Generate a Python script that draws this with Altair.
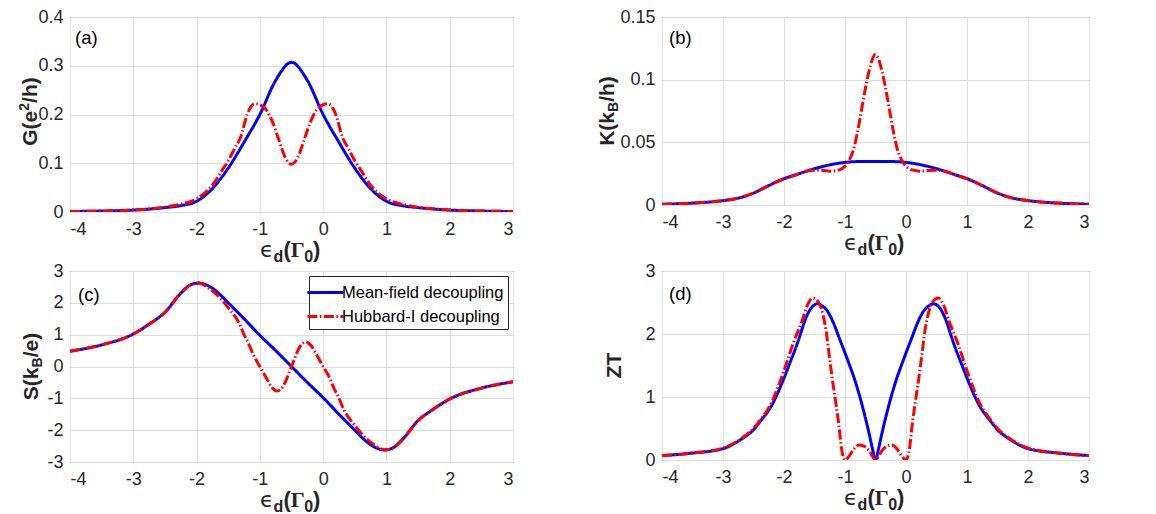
import altair as alt
import pandas as pd

MF = "Mean-field decoupling"
HI = "Hubbard-I decoupling"
SERIES = [MF, HI]
COLORS = ["#0000FF", "#FF0000"]
DASHES = [[1, 0], [10, 2.5, 1.5, 2.5]]
INK = "#262626"
SANS = "Liberation Sans"

X_TICKS = [-4, -3, -2, -1, 0, 1, 2, 3]
G_TICKS = [0, 0.1, 0.2, 0.3, 0.4]
K_TICKS = [0, 0.05, 0.1, 0.15]
S_TICKS = [-3, -2, -1, 0, 1, 2, 3]
ZT_TICKS = [0, 1, 2, 3]

# ---- (a) conductance G ----
G_MF_X = [-4, -3.5, -3, -2.5, -2.25, -2, -1.75, -1.5, -1.25, -1, -0.75, -0.5, -0.25, 0, 0.25, 0.5, 0.75, 1, 1.25, 1.5, 2, 2.5, 3]
G_MF_Y = [0.001, 0.002, 0.004, 0.009, 0.013, 0.022, 0.048, 0.09, 0.143, 0.2, 0.27, 0.307, 0.27, 0.2, 0.143, 0.09, 0.048, 0.022, 0.013, 0.009, 0.004, 0.002, 0.001]
G_HI_X = [-4, -3.5, -3, -2.5, -2.25, -2, -1.75, -1.6, -1.5, -1.4, -1.3, -1.2, -1.08, -1, -0.9, -0.8, -0.7, -0.6, -0.5,
          -0.4, -0.3, -0.2, -0.1, 0, 0.08, 0.2, 0.3, 0.4, 0.5, 0.6, 0.75, 1, 1.25, 1.5, 2, 2.5, 3]
G_HI_Y = [0.001, 0.002, 0.004, 0.01, 0.016, 0.027, 0.055, 0.085, 0.105, 0.13, 0.155, 0.2, 0.222, 0.22, 0.21, 0.185, 0.148, 0.112, 0.098,
          0.112, 0.148, 0.185, 0.21, 0.22, 0.222, 0.2, 0.155, 0.13, 0.105, 0.085, 0.055, 0.027, 0.016, 0.01, 0.004, 0.002, 0.001]

# ---- (b) thermal conductance K ----
K_MF_X = [-4, -3.5, -3, -2.75, -2.5, -2.25, -2, -1.75, -1.5, -1.25, -1, -0.75, -0.5, -0.25, 0, 0.25, 0.5, 0.75, 1, 1.25, 1.5, 1.75, 2, 2.5, 3]
K_MF_Y = [0.0006, 0.0015, 0.0035, 0.0055, 0.0095, 0.0155, 0.021, 0.025, 0.029, 0.032, 0.034, 0.0347, 0.0348, 0.0347, 0.034, 0.032, 0.029, 0.025, 0.021, 0.0155, 0.0095, 0.0055, 0.0035, 0.0015, 0.0006]
K_HI_X = [-4, -3.5, -3, -2.75, -2.5, -2.25, -2, -1.8, -1.7, -1.5, -1.35, -1.25, -1.15, -1.05, -1, -0.95, -0.9, -0.85, -0.8, -0.75, -0.7, -0.65, -0.6, -0.55, -0.5,
          -0.45, -0.4, -0.35, -0.3, -0.25, -0.2, -0.15, -0.1, -0.05, 0, 0.05, 0.15, 0.25, 0.35, 0.5, 0.7, 0.8, 1, 1.25, 1.5, 1.75, 2, 2.5, 3]
K_HI_Y = [0.0006, 0.0015, 0.0035, 0.0055, 0.0095, 0.0155, 0.021, 0.024, 0.0262, 0.0278, 0.0275, 0.027, 0.0275, 0.029, 0.031, 0.034, 0.039, 0.046, 0.057, 0.07, 0.084, 0.097, 0.108, 0.1165, 0.12,
          0.1165, 0.108, 0.097, 0.084, 0.07, 0.057, 0.046, 0.039, 0.034, 0.031, 0.029, 0.0275, 0.027, 0.0275, 0.0278, 0.0262, 0.024, 0.021, 0.0155, 0.0095, 0.0055, 0.0035, 0.0015, 0.0006]

# ---- (c) thermopower S ----
S_MF_X = [-4, -3.5, -3, -2.75, -2.5, -2.25, -2.1, -1.97, -1.8, -1.65, -1.5, -1.25, -1, -0.75, -0.5, -0.25, 0, 0.25, 0.5, 0.65, 0.8, 0.97, 1.1, 1.25, 1.5, 1.75, 2, 2.5, 3]
S_MF_Y = [0.48, 0.68, 1.02, 1.33, 1.7, 2.3, 2.56, 2.62, 2.52, 2.3, 2.0, 1.5, 0.98, 0.5, 0, -0.5, -0.98, -1.5, -2.0, -2.3, -2.52, -2.62, -2.56, -2.3, -1.7, -1.33, -1.02, -0.68, -0.48]
S_HI_X = [-4, -3.5, -3, -2.75, -2.5, -2.25, -2.1, -1.97, -1.8, -1.65, -1.5, -1.33, -1.25, -1.17, -1.1, -1, -0.9, -0.8, -0.73, -0.67, -0.6, -0.55, -0.5,
          -0.45, -0.4, -0.33, -0.27, -0.2, -0.1, 0, 0.1, 0.17, 0.25, 0.33, 0.5, 0.65, 0.8, 0.97, 1.1, 1.25, 1.5, 1.75, 2, 2.5, 3]
S_HI_Y = [0.48, 0.68, 1.02, 1.33, 1.7, 2.3, 2.56, 2.62, 2.45, 2.2, 1.85, 1.37, 1.0, 0.68, 0.35, 0, -0.35, -0.68, -0.77, -0.72, -0.5, -0.25, 0,
          0.25, 0.5, 0.72, 0.77, 0.68, 0.35, 0, -0.35, -0.68, -1.0, -1.37, -1.85, -2.2, -2.45, -2.62, -2.56, -2.3, -1.7, -1.33, -1.02, -0.68, -0.48]

# ---- (d) figure of merit ZT ----
ZT_MF_X = [-4, -3.5, -3, -2.7, -2.5, -2.4, -2.2, -2, -1.9, -1.8, -1.73, -1.67, -1.6, -1.52, -1.45, -1.38, -1.3, -1.2, -1.08, -1, -0.95, -0.85, -0.77, -0.7, -0.6, -0.55, -0.5,
           -0.45, -0.4, -0.3, -0.23, -0.15, -0.05, 0, 0.08, 0.2, 0.3, 0.38, 0.45, 0.52, 0.6, 0.67, 0.73, 0.8, 0.9, 1, 1.2, 1.4, 1.5, 1.7, 2, 2.5, 3]
ZT_MF_Y = [0.07, 0.11, 0.18, 0.33, 0.48, 0.6, 0.87, 1.3, 1.55, 1.8, 2.0, 2.18, 2.34, 2.45, 2.48, 2.45, 2.38, 2.2, 1.9, 1.7, 1.57, 1.3, 1.05, 0.8, 0.4, 0.18, 0,
           0.18, 0.4, 0.8, 1.05, 1.3, 1.57, 1.7, 1.9, 2.2, 2.38, 2.45, 2.48, 2.45, 2.34, 2.18, 2.0, 1.8, 1.55, 1.3, 0.87, 0.6, 0.48, 0.33, 0.18, 0.11, 0.07]
ZT_HI_X = [-4, -3.5, -3, -2.7, -2.5, -2.4, -2.2, -2, -1.85, -1.7, -1.62, -1.53, -1.43, -1.36, -1.31, -1.26, -1.21, -1.15, -1.1, -1.06, -1, -0.92, -0.85, -0.77, -0.67, -0.6, -0.55, -0.5,
           -0.45, -0.4, -0.33, -0.23, -0.15, -0.08, 0, 0.06, 0.1, 0.15, 0.21, 0.26, 0.31, 0.36, 0.43, 0.53, 0.62, 0.7, 0.85, 1, 1.2, 1.4, 1.5, 1.7, 2, 2.5, 3]
ZT_HI_Y = [0.07, 0.11, 0.19, 0.34, 0.5, 0.62, 0.92, 1.42, 1.85, 2.22, 2.45, 2.57, 2.5, 2.3, 2.05, 1.67, 1.3, 0.9, 0.55, 0.2, 0, 0.08, 0.18, 0.24, 0.21, 0.14, 0.06, 0,
           0.06, 0.14, 0.21, 0.24, 0.18, 0.08, 0, 0.2, 0.55, 0.9, 1.3, 1.67, 2.05, 2.3, 2.5, 2.57, 2.45, 2.22, 1.85, 1.42, 0.92, 0.62, 0.5, 0.34, 0.19, 0.11, 0.07]

# approximate advance widths (em) for composing titles
ADV = {"G": .778, "(": .333, "e": .556, "2": .556, "/": .278, "h": .611, ")": .333, "K": .722,
       "k": .556, "B": .722, "S": .667, "Z": .611, "T": .611, "d": .611, "0": .556, "ϵ": .5, "Γ": .611}


def tw(t, s):
    return sum(ADV.get(c, .6) for c in t) * s


ONE = alt.Data(values=[{}])


def txt(t, x, y, size, weight="bold", font=SANS, align="left", angle=None, color=INK):
    kw = dict(text=t, fontSize=size, fontWeight=weight, font=font, align=align,
              baseline="alphabetic", color=color)
    if angle is not None:
        kw["angle"] = angle
    return alt.Chart(ONE).mark_text(**kw).encode(x=alt.value(x), y=alt.value(y))


def x_title(w, h):
    main, sub = 22, 16
    parts = [("ϵ", main, 0, "DejaVu Sans", "normal"), ("d", sub, 5, SANS, "bold"),
             ("(", main, 0, SANS, "bold"), ("Γ", main, 0, "Liberation Serif", "bold"),
             ("0", sub, 5, SANS, "bold"), (")", main, 0, SANS, "bold")]
    total = sum(tw(p[0], p[1]) for p in parts)
    base_y = h + 45
    x0 = w / 2 - total / 2 + tw("ϵ", main)
    out = [txt("ϵ", x0, base_y, main, weight="normal", font="DejaVu Sans", align="right")]
    cur = x0
    for t, s, sh, f, wt in parts[1:]:
        out.append(txt(t, cur, base_y + sh, s, weight=wt, font=f))
        cur += tw(t, s)
    return out


def y_title(pieces, cx, cy):
    total = sum(tw(t, s) for t, s, _ in pieces)
    y = cy + total / 2
    xb = cx + 7.5
    out = []
    for t, s, sh in pieces:
        out.append(txt(t, xb + sh, y, s, angle=270))
        y -= tw(t, s)
    return out


def frame(xm, ym, xh, yh):
    assert len(xm) == len(ym) and len(xh) == len(yh)
    rows = [{"x": a, "y": b, "s": MF} for a, b in zip(xm, ym)]
    rows += [{"x": a, "y": b, "s": HI} for a, b in zip(xh, yh)]
    return pd.DataFrame(rows)


def panel(df, ydom, yticks, w, h, tag, tag_x, tag_y, ypieces, ycx, ycy, legend):
    if legend:
        leg = alt.Legend(orient="top-right", offset=5, title=None, fillColor="white",
                         strokeColor=INK, padding=4, labelFontSize=16.5, labelFont=SANS,
                         labelColor="#000000", symbolType="M-1.65,0H1.65", symbolSize=484,
                         symbolStrokeWidth=3, labelOffset=4, rowPadding=3, cornerRadius=0,
                         labelLimit=400)
    else:
        leg = None
    xenc = alt.X("x:Q", scale=alt.Scale(domain=[-4, 3], nice=False, zero=False),
                 axis=alt.Axis(values=X_TICKS, title=None, labelExpr="'' + datum.value"))
    yenc = alt.Y("y:Q", scale=alt.Scale(domain=ydom, nice=False, zero=False),
                 axis=alt.Axis(values=yticks, title=None, labelExpr="'' + datum.value"))
    col = alt.Color("s:N", scale=alt.Scale(domain=SERIES, range=COLORS), legend=leg)
    dash = alt.StrokeDash("s:N", scale=alt.Scale(domain=SERIES, range=DASHES), legend=leg)
    base = alt.Chart(df).mark_line(strokeWidth=3, interpolate="monotone", clip=True).encode(
        x=xenc, y=yenc, color=col, strokeDash=dash)
    mf = base.transform_filter(alt.datum.s == MF)
    hi = base.transform_filter(alt.datum.s == HI)
    layers = [mf, hi, txt(tag, tag_x, tag_y, 18.5, weight="normal", color="#000000")]
    layers += x_title(w, h)
    layers += y_title(ypieces, ycx, ycy)
    return alt.layer(*layers).properties(width=w, height=h)


pa = panel(frame(G_MF_X, G_MF_Y, G_HI_X, G_HI_Y), [0, 0.4], G_TICKS, 443, 195, "(a)", 5, 27,
           [("G(e", 21, 0), ("2", 14, -8), ("/h)", 21, 0)], -41, 195 / 2 - 3, False)
pb = panel(frame(K_MF_X, K_MF_Y, K_HI_X, K_HI_Y), [0, 0.15], K_TICKS, 427, 188, "(b)", 7, 27,
           [("K(k", 21, 0), ("B", 14, 4), ("/h)", 21, 0)], -56, 188 / 2, False)
pc = panel(frame(S_MF_X, S_MF_Y, S_HI_X, S_HI_Y), [-3, 3], S_TICKS, 443, 191, "(c)", 8, 30,
           [("S(k", 21, 0), ("B", 14, 4), ("/e)", 21, 0)], -40, 191 / 2, True)
pd_ = panel(frame(ZT_MF_X, ZT_MF_Y, ZT_HI_X, ZT_HI_Y), [0, 3], ZT_TICKS, 427, 189, "(d)", 7, 29,
            [("ZT", 21, 0)], -49, 189 / 2, False)

chart = alt.concat(pa, pb, pc, pd_, columns=2, spacing={"row": 59, "column": 149},
                   bounds="flush").resolve_legend(color="independent", strokeDash="independent")
chart = chart.properties(padding={"left": 9, "top": -1, "right": 0, "bottom": 0}, background="white")
chart = chart.configure_axis(
    labelFont=SANS, labelFontSize=18, labelColor=INK, gridColor="#dedede", gridWidth=1,
    domain=False, ticks=False, tickSize=0, grid=True
).configure_axisX(labelPadding=8).configure_axisY(labelPadding=7).configure_view(
    stroke=INK, strokeWidth=1)

chart.save("out.html", embed_options={"renderer": "svg", "actions": False})
